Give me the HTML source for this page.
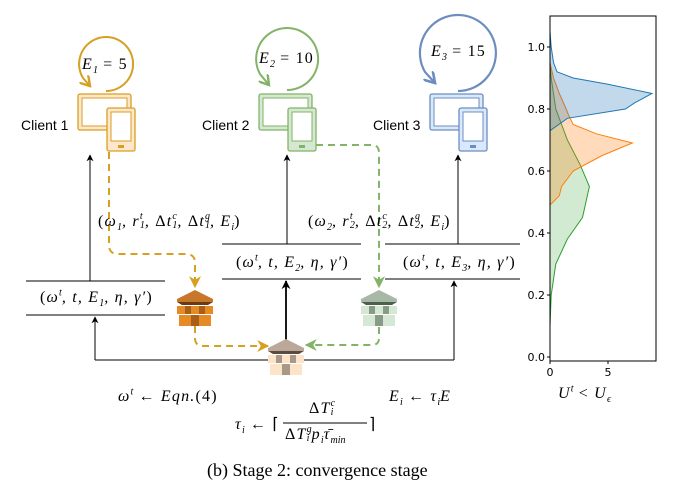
<!DOCTYPE html>
<html><head><meta charset="utf-8"><style>
body{margin:0;background:#fff;position:relative;width:683px;height:497px;overflow:hidden}
svg{display:block;position:absolute;left:0;top:0}
.m{position:absolute;font-family:"Liberation Serif",serif;font-style:italic;font-size:16px;letter-spacing:1.2px;white-space:nowrap;line-height:1}
.m .n{font-style:normal}
.ss{display:inline-flex;flex-direction:column;vertical-align:middle;font-size:10px;line-height:9px;margin-top:-2px;letter-spacing:0}
sub,sup{font-size:10px;line-height:0;letter-spacing:0}
.s{font-family:"Liberation Sans",sans-serif;font-size:14px}
</style></head><body>
<svg width="683" height="497" viewBox="0 0 683 497" xmlns="http://www.w3.org/2000/svg">
<defs>
<marker id="ab" viewBox="0 0 10 10" refX="9" refY="5" markerWidth="7" markerHeight="7" orient="auto"><path d="M0,0L10,5L0,10L3,5z" fill="#000"/></marker>
<marker id="ab2" viewBox="0 0 10 10" refX="9" refY="5" markerWidth="5" markerHeight="5" orient="auto"><path d="M0,0L10,5L0,10L3,5z" fill="#000"/></marker>
<marker id="al" viewBox="0 0 10 10" refX="9" refY="5" markerWidth="6" markerHeight="6" orient="auto"><path d="M0,0L10,5L0,10L3,5z" fill="#d6a021"/></marker>
<marker id="ag" viewBox="0 0 10 10" refX="9" refY="5" markerWidth="6" markerHeight="6" orient="auto"><path d="M0,0L10,5L0,10L3,5z" fill="#82b366"/></marker>
<marker id="vo" viewBox="0 0 10 10" refX="8" refY="5" markerWidth="6" markerHeight="6" orient="auto"><path d="M0,0L8,5L0,10" fill="none" stroke="#d6a021" stroke-width="2"/></marker>
<marker id="vg" viewBox="0 0 10 10" refX="8" refY="5" markerWidth="6" markerHeight="6" orient="auto"><path d="M0,0L8,5L0,10" fill="none" stroke="#82b366" stroke-width="2"/></marker>
<marker id="vb" viewBox="0 0 10 10" refX="8" refY="5" markerWidth="6" markerHeight="6" orient="auto"><path d="M0,0L8,5L0,10" fill="none" stroke="#6c8ebf" stroke-width="2"/></marker>
</defs>
<path d="M106,91 A27,27 0 1 0 83,78 L90,86" fill="none" stroke="#d6a021" stroke-width="2" marker-end="url(#vo)"/>
<path d="M287,90 A31,31 0 1 0 260,74 L269,85" fill="none" stroke="#82b366" stroke-width="2" marker-end="url(#vg)"/>
<path d="M458,91 A38,38 0 1 0 425,72 L435,83" fill="none" stroke="#6c8ebf" stroke-width="2.2" marker-end="url(#vb)"/>
<g>
<rect x="78" y="94" width="53" height="36" rx="2" fill="#ffe6cc" stroke="#d6a021" stroke-width="1.3"/>
<rect x="82" y="98" width="45" height="28" fill="#fff" stroke="#d6a021" stroke-width="1"/>
<rect x="107" y="108" width="28" height="43" rx="2" fill="#ffe6cc" stroke="#d6a021" stroke-width="1.3"/>
<rect x="111" y="112" width="20" height="29" fill="#fff" stroke="#d6a021" stroke-width="1"/>
<rect x="118" y="145" width="6" height="3" fill="#d6a021"/>
</g>
<g transform="translate(181,0)">
<rect x="78" y="94" width="53" height="36" rx="2" fill="#d5e8d4" stroke="#82b366" stroke-width="1.3"/>
<rect x="82" y="98" width="45" height="28" fill="#fff" stroke="#82b366"/>
<rect x="107" y="108" width="28" height="43" rx="2" fill="#d5e8d4" stroke="#82b366" stroke-width="1.3"/>
<rect x="111" y="112" width="20" height="29" fill="#fff" stroke="#82b366"/>
<rect x="118" y="145" width="6" height="3" fill="#82b366"/>
</g>
<g transform="translate(352,0)">
<rect x="78" y="94" width="53" height="36" rx="2" fill="#dae8fc" stroke="#6c8ebf" stroke-width="1.3"/>
<rect x="82" y="98" width="45" height="28" fill="#fff" stroke="#6c8ebf"/>
<rect x="107" y="108" width="28" height="43" rx="2" fill="#dae8fc" stroke="#6c8ebf" stroke-width="1.3"/>
<rect x="111" y="112" width="20" height="29" fill="#fff" stroke="#6c8ebf"/>
<rect x="118" y="145" width="6" height="3" fill="#6c8ebf"/>
</g>
<text x="21" y="130" class="s">Client 1</text>
<text x="202" y="130" class="s">Client 2</text>
<text x="373" y="130" class="s">Client 3</text>
<g stroke="#000" stroke-width="1" fill="none">
<line x1="26" y1="281" x2="165" y2="281"/><line x1="26" y1="315" x2="165" y2="315"/>
<line x1="222" y1="244" x2="361" y2="244"/><line x1="222" y1="279" x2="361" y2="279"/>
<line x1="385" y1="244" x2="520" y2="244"/><line x1="385" y1="279" x2="520" y2="279"/>
<line x1="90" y1="281" x2="90" y2="155" marker-end="url(#ab)"/>
<line x1="287" y1="244" x2="287" y2="155" marker-end="url(#ab)"/>
<line x1="458" y1="244" x2="458" y2="155" marker-end="url(#ab)"/>
<polyline points="95,360 454,360" />
<line x1="95" y1="360" x2="95" y2="317" marker-end="url(#ab)"/>
<line x1="454" y1="360" x2="454" y2="281" marker-end="url(#ab)"/>
<line x1="286" y1="340" x2="286" y2="281" stroke-width="1.8" marker-end="url(#ab2)"/>
</g>
<path d="M109,152 L109,245 Q109,254 118,254 L186,254 Q195,254 195,263 L195,287" fill="none" stroke="#d6a021" stroke-width="2" stroke-dasharray="7,5" marker-end="url(#al)"/>
<path d="M195,326 L195,338 Q195,346 203,346 L268,346" fill="none" stroke="#d6a021" stroke-width="2" stroke-dasharray="7,5" marker-end="url(#al)"/>
<path d="M316,145 L372,145 Q379,145 379,153 L379,287" fill="none" stroke="#82b366" stroke-width="2" stroke-dasharray="7,5" marker-end="url(#ag)"/>
<path d="M379,327 L379,338 Q379,345 372,345 L306,345" fill="none" stroke="#82b366" stroke-width="2" stroke-dasharray="7,5" marker-end="url(#ag)"/>
<g transform="translate(177,290)">
<polygon points="0,9 18,0 36,9 36,12 0,12" fill="#c7772a"/>
<polygon points="0,12 36,12 31,15 5,15" fill="#6b3a10"/>
<rect x="0" y="16" width="36" height="8" fill="#e58a24"/><rect x="2" y="25" width="32" height="11" fill="#e58a24"/>
<rect x="8" y="16" width="6" height="8" fill="#a85f18"/><rect x="22" y="16" width="6" height="8" fill="#a85f18"/><rect x="14" y="25" width="8" height="11" fill="#a85f18"/>
</g>
<g transform="translate(361,290)">
<polygon points="0,9 18,0 36,9 36,12 0,12" fill="#a8b8a6"/>
<polygon points="0,12 36,12 31,15 5,15" fill="#4f5f4e"/>
<rect x="0" y="16" width="36" height="8" fill="#d5e8d4"/><rect x="2" y="25" width="32" height="11" fill="#d5e8d4"/>
<rect x="8" y="16" width="6" height="8" fill="#8a9a88"/><rect x="22" y="16" width="6" height="8" fill="#8a9a88"/><rect x="14" y="25" width="8" height="11" fill="#8a9a88"/>
</g>
<g transform="translate(268,339)">
<polygon points="0,9 18,0 36,9 36,12 0,12" fill="#bca898"/>
<polygon points="0,12 36,12 31,15 5,15" fill="#5a4a40"/>
<rect x="0" y="16" width="36" height="8" fill="#fde3c8"/><rect x="2" y="25" width="32" height="11" fill="#fde3c8"/>
<rect x="8" y="16" width="6" height="8" fill="#a89888"/><rect x="22" y="16" width="6" height="8" fill="#a89888"/><rect x="14" y="25" width="8" height="11" fill="#a89888"/>
</g>
<line x1="283" y1="423" x2="367" y2="423" stroke="#000" stroke-width="1"/>
<text x="207" y="476" font-family="Liberation Serif,serif" font-size="18">(b)  Stage 2: convergence stage</text>
<g>
<path d="M550,326 L551.2,295 L555.8,264 L567.4,239 L582.5,217.5 L589.4,186.5 L580.2,164.8 L567.4,140 L555.8,109 L551.2,78 L550,62.5 Z" fill="rgba(44,160,44,0.22)" stroke="#2ca02c" stroke-width="1"/>
<path d="M550,205 L559.3,195.8 L561.6,186.5 L573.2,171 L602.2,155.5 L632.4,143 L596.4,133.8 L573.2,124.5 L568.6,115.2 L566.2,109 L559.3,93.5 L553.5,78 L550,62.5 Z" fill="rgba(255,127,14,0.28)" stroke="#ff7f0e" stroke-width="1"/>
<path d="M550,130.7 L567.4,118.3 L625.4,109 L634.7,102.8 L652,93.5 L608,84.2 L573.2,78 L557,71.8 L553.5,62.5 L551.2,47 L550,31.5 Z" fill="rgba(31,119,180,0.28)" stroke="#1f77b4" stroke-width="1"/>
<rect x="550" y="16" width="106" height="345" fill="none" stroke="#000" stroke-width="1"/>
<g font-family="DejaVu Sans,sans-serif" font-size="11" text-anchor="end" fill="#000">
<text x="545" y="51">1.0</text><text x="545" y="113">0.8</text><text x="545" y="175">0.6</text><text x="545" y="237">0.4</text><text x="545" y="299">0.2</text><text x="545" y="361">0.0</text>
</g>
<g stroke="#000"><line x1="547" y1="47" x2="550" y2="47"/><line x1="547" y1="109" x2="550" y2="109"/><line x1="547" y1="171" x2="550" y2="171"/><line x1="547" y1="233" x2="550" y2="233"/><line x1="547" y1="295" x2="550" y2="295"/><line x1="547" y1="357" x2="550" y2="357"/><line x1="550" y1="361" x2="550" y2="364"/><line x1="608" y1="361" x2="608" y2="364"/></g>
<text x="550" y="376" font-family="DejaVu Sans,sans-serif" font-size="11" text-anchor="middle">0</text>
<text x="608" y="376" font-family="DejaVu Sans,sans-serif" font-size="11" text-anchor="middle">5</text>
</g>
</svg>
<div class="m" style="left:82px;top:57px;font-size:16px">E<sub>1</sub><span class="n"> = 5</span></div>
<div class="m" style="left:259px;top:51px;font-size:16px">E<sub>2</sub><span class="n"> = 10</span></div>
<div class="m" style="left:431px;top:44px;font-size:16px">E<sub>3</sub><span class="n"> = 15</span></div>

<div class="m" style="left:98px;top:214px"><span class="n">(</span>ω<sub>1</sub>, r<span class="ss"><span>t</span><span>1</span></span>, <span class="n">Δ</span>t<span class="ss"><span>c</span><span>1</span></span>, <span class="n">Δ</span>t<span class="ss"><span>g</span><span>1</span></span>, E<sub>i</sub><span class="n">)</span></div>
<div class="m" style="left:308px;top:214px"><span class="n">(</span>ω<sub>2</sub>, r<span class="ss"><span>t</span><span>2</span></span>, <span class="n">Δ</span>t<span class="ss"><span>c</span><span>2</span></span>, <span class="n">Δ</span>t<span class="ss"><span>g</span><span>2</span></span>, E<sub>i</sub><span class="n">)</span></div>

<div class="m" style="left:40px;top:290px"><span class="n">(</span>ω<sup>t</sup>, t, E<sub>1</sub>, η, γ′<span class="n">)</span></div>
<div class="m" style="left:236px;top:255px"><span class="n">(</span>ω<sup>t</sup>, t, E<sub>2</sub>, η, γ′<span class="n">)</span></div>
<div class="m" style="left:403px;top:255px"><span class="n">(</span>ω<sup>t</sup>, t, E<sub>3</sub>, η, γ′<span class="n">)</span></div>

<div class="m" style="left:118px;top:389px">ω<sup>t</sup><span class="n"> ← </span>Eqn.<span class="n">(4)</span></div>
<div class="m" style="left:389px;top:389px">E<sub>i</sub><span class="n"> ← </span>τ<sub>i</sub>E</div>
<div class="m" style="left:235px;top:417px">τ<sub>i</sub><span class="n"> ← ⌈</span></div>
<div class="m" style="left:309px;top:401px"><span class="n">Δ</span>T<span class="ss"><span>c</span><span>i</span></span></div>
<div class="m" style="left:285px;top:427px"><span class="n">Δ</span>T<span class="ss"><span>g</span><span>i</span></span>p<sub>i</sub>τ̄<sub>min</sub></div>
<div class="m" style="left:369px;top:417px"><span class="n">⌉</span></div>
<div class="m" style="left:558px;top:386px;font-size:16px">U<sup>t</sup><span class="n"> &lt; </span>U<sub>ϵ</sub></div>
</body></html>
